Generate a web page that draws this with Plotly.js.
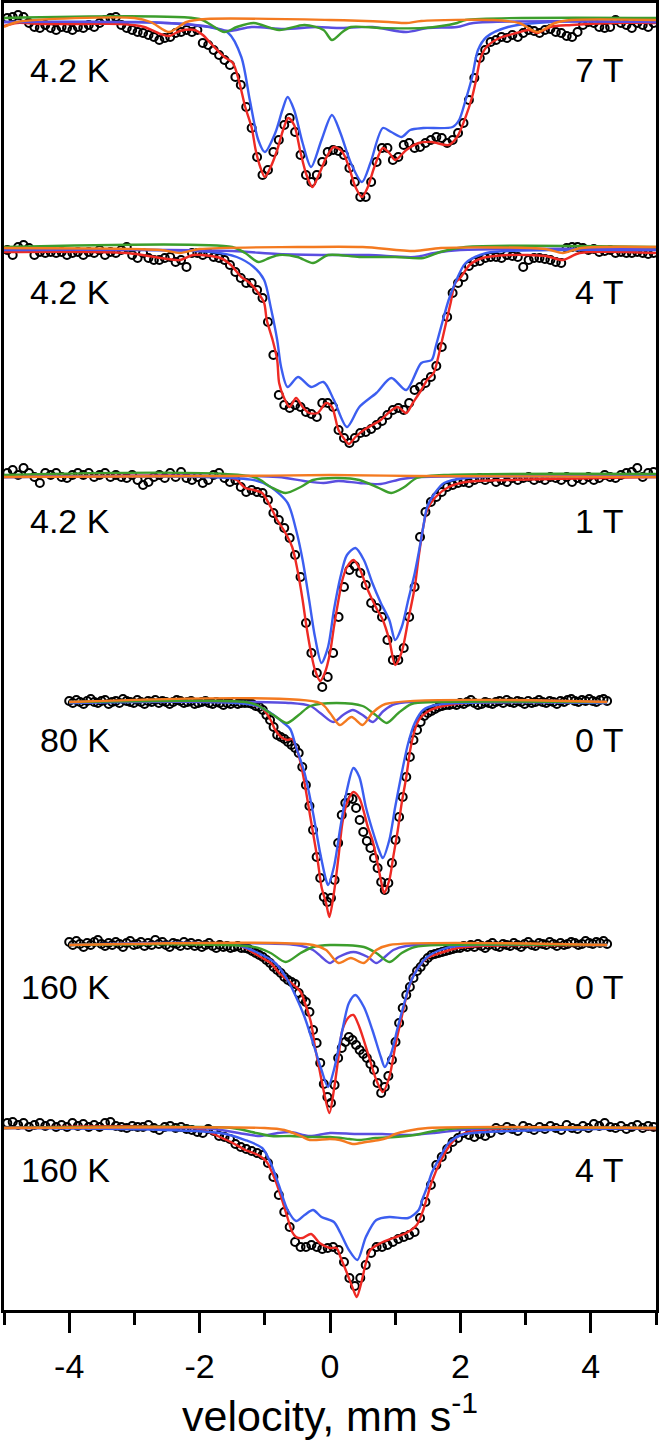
<!DOCTYPE html>
<html><head><meta charset="utf-8">
<script src="https://cdn.plot.ly/plotly-3.0.1.min.js"></script>
<style>html,body{margin:0;padding:0;background:#fff;}#chart{width:661px;height:1442px;}</style>
</head><body><div id="chart"></div>
<script>
// Velocity channels (mm/s)
const vStartWide = -4.95, vStepWide = 0.0833;   // panels 1,2,3,6
const vStartNarrow = -4.0, vStepNarrow = 0.055; // panels 4,5

const panelLabelsLeft = ['4.2 K', '4.2 K', '4.2 K', '80 K', '160 K', '160 K'];
const panelLabelsRight = ['7 T', '4 T', '1 T', '0 T', '0 T', '4 T'];
// vertical stacking offsets of each spectrum baseline (arb. units, downward)
const panelOffsets = [17, 246, 473, 700, 942, 1125];

const tickVals = [-4, -2, 0, 2, 4];
const tickText = ['-4', '-2', '0', '2', '4'];
const minorTickVals = [-5, -3, -1, 1, 3, 5];
const xTitle = 'velocity, mm s<sup>-1</sup>';

// ---- measured absorption (arb. units, positive = absorption) ----
const p1Data = [-2,-3,-5,-3,3,7,8,5,8,10, 7,8,10,7,8,5,7,3,0,-2, -3,5,8,10,12,13,15,17,20,18, 17,13,12,10,12,10,23,25,30,35,
  40,45,57,65,87,108,137,155,150,132, 120,105,98,112,135,155,162,155,142,132, 130,131,135,148,162,177,177,162,142,128,
  128,140,137,125,123,128,127,123,120,117, 118,123,120,113,103,80,58,38,30,22, 20,17,18,15,17,13,10,11,13,10,
  9,12,13,16,17,12,5,2,3,7, 8,7,0,3,5,8,3,5,7,3];
const p2Data = [1,6,-2,-4,-1,6,3,4,3,4, 3,6,4,3,6,3,4,1,6,3, 4,1,-2,6,9,4,9,11,11,9, 8,13,11,18,4,4,6,4,8,9,
  11,16,23,29,34,34,41,49,73,106, 146,156,159,156,158,163,165,168,154,154, 158,181,189,194,189,184,183,180,176,172,
  166,161,159,161,154,141,138,134,128,117, 98,68,44,34,28,17,13,12,9,8, 8,9,6,7,8,18,11,9,9,10,
  11,13,14,-1,-2,-2,-1,1,0,3, 2,1,4,3,4,4,3,4,5,4];
const p3Data = [-3,-6,-1,-8,-3,1,7,-3,-1,-3, 1,2,-1,-3,-1,-3,1,-1,-3,1, -1,1,2,-1,4,9,6,1,-1,2, -3,1,-4,2,4,1,7,4,-1,-3,
  2,6,4,11,16,14,16,17,24,37, 44,52,62,79,101,147,177,197,211,201, 177,141,111,94,90,97,109,127,132,141,
  164,184,184,172,141,111,61,36,26,21, 16,11,9,7,6,7,4,2,4,2, 6,4,6,2,4,2,1,4,2,4,
  1,2,4,1,6,2,4,1,4,2, -1,1,2,-1,-3,-4,-8,1,-3,-4];
const p4Data = [-2,0,-3,-1,1,-2,-4,-1,0,-2, -3,1,-1,-2,0,-4,-2,-1,0,-3, -1,1,-2,-1,-3,0,-2,-1,1,-1,
  -3,-2,0,-1,-2,1,0,-1,-2,0, 1,-1,0,2,0,1,-1,1,0,
  0,0,1,3,4,7,12,17,24,32, 34,36,39,42,45,50,64,82,103,127, 154,175,194,199,195,177,140,112,100,95,
  96,105,117,129,138,145,155,165,179,187, 180,160,137,114,94,74,54,37,27,19, 13,10,8,6,4,3,2,
  2,1,2,0,1,-1,-3,0,2,1, -1,0,1,-1,-2,0,-3,-1,0,-2, -1,1,-2,0,-1,-3,-1,0,-2,-1,
  1,-2,-1,-3,-4,-2,-1,-3,-2,-4, -2,-1,-3,-4,-2];
const p5Data = [-3,0,-4,-1,2,-2,0,-3,-5,-1, 1,-2,0,-3,-1,2,-2,-4,0,-1, -3,1,-2,0,-5,-1,-3,0,2,-2,
  -1,1,-3,0,-2,1,-1,2,0,-2, 1,3,0,2,1,3,2,1,3,
  3,4,6,8,10,12,15,18,22,25, 28,32,35,37,39,48,54,57,67,85, 98,118,139,152,158,140,113,103,97,92,
  95,100,105,109,113,119,125,138,148,142, 131,115,97,78,63,50,42,33,26,22, 17,13,10,9,8,7,6,5,4,3,
  3,1,2,0,2,-1,1,3,0,-2, 1,2,-1,0,1,-2,0,2,-1,-3, 0,1,-2,-1,0,-3,-1,1,-2,0,
  -1,-3,-2,0,-1,-4,-2,-1,-3,-2, -4,-1];
const p6Data = [-5,-6,-3,-5,-1,-3,-5,-2,-4,-1, -3,-1,-5,-2,-4,-1,-3,-1,-5,-6, -2,-1,0,-2,-1,-1,-3,0,2,-1,
  -2,0,-1,1,2,4,5,1,3,8, 9,11,16,19,21,23,25,27,35,49, 67,84,99,114,119,119,117,119,121,120,
  119,122,134,150,158,150,137,125,119,119, 117,114,111,109,107,104,90,74,57,37, 29,21,14,10,5,7,9,6,8,5,
  0,2,-1,1,3,-2,0,2,-1,1, -2,0,2,-3,0,1,-2,0,-4,-2, -5,-1,0,-2,1,-1,-3,0,-2,-1];

// ---- fitted curves: [velocity, absorption] ----
const p1Red = [[-5,6],[-4.8,3],[-4.4,4],[-3.8,4],[-3.2,4],[-2.85,7],[-2.6,14],[-2.47,16],[-2.3,11],[-2.08,10],[-1.95,15],[-1.82,24],[-1.62,37],[-1.49,43],[-1.4,60],[-1.3,87],[-1.2,108],[-1.14,130],[-1.07,147],[-1.0,157],[-0.91,147],[-0.81,130],[-0.71,108],[-0.64,98],[-0.55,105],[-0.45,133],[-0.36,155],[-0.27,167],[-0.16,153],[-0.06,138],[0.06,127],[0.19,132],[0.29,147],[0.39,167],[0.49,177],[0.58,167],[0.68,147],[0.81,128],[0.91,133],[1.0,140],[1.17,130],[1.36,123],[1.56,122],[1.82,125],[1.95,117],[2.08,97],[2.18,77],[2.24,60],[2.31,38],[2.4,27],[2.6,18],[2.86,13],[3.05,10],[3.18,13],[3.38,7],[3.7,5],[4.35,3],[5,3]];
const p1Blue = [[-5,2],[-3,2],[-2.1,5],[-1.56,13],[-1.36,37],[-1.23,80],[-1.1,120],[-1.0,132],[-0.84,113],[-0.73,90],[-0.65,77],[-0.55,90],[-0.42,123],[-0.29,147],[-0.13,120],[0.03,95],[0.16,113],[0.32,143],[0.49,162],[0.62,143],[0.81,108],[0.94,112],[1.1,117],[1.23,110],[1.43,108],[1.88,107],[1.98,100],[2.08,80],[2.18,57],[2.27,30],[2.4,17],[2.73,7],[3.38,2],[5,2]];
const p1Purple = [[-5,2],[-2.5,3],[-1.82,7],[-1.56,11],[-1.2,7],[-0.71,9],[-0.2,7],[0.13,8],[0.65,7],[1.17,12],[1.5,8],[1.95,7],[2.2,3],[5,2]];
const p1Green = [[-5,-2],[-2.0,-1],[-1.82,5],[-1.62,12],[-1.43,7],[-1.17,3],[-0.78,10],[-0.39,5],[-0.1,10],[0.03,20],[0.19,12],[0.32,7],[0.78,8],[1.43,8],[1.95,3],[2.08,0],[5,-2]];
const p1Orange = [[-5,7],[-4.8,2],[-3.0,-2],[-2.75,2],[-2.47,12],[-2.2,2],[-1.9,-1],[0,0],[0.9,2],[1.17,3],[1.4,1],[2.5,0],[2.9,3],[3.18,12],[3.45,3],[3.7,0],[5,0]];

const p2Red = [[-5,3],[-3.12,4],[-2.6,9],[-2.3,11],[-2.1,6],[-1.68,9],[-1.52,16],[-1.36,28],[-1.23,34],[-1.1,44],[-1.01,54],[-0.97,71],[-0.88,91],[-0.81,111],[-0.78,134],[-0.71,148],[-0.62,158],[-0.52,149],[-0.42,158],[-0.32,164],[-0.19,164],[-0.06,154],[0.03,158],[0.13,181],[0.23,191],[0.29,195],[0.39,188],[0.52,181],[0.65,176],[0.78,171],[0.91,163],[1.04,158],[1.17,164],[1.27,154],[1.4,141],[1.49,131],[1.59,124],[1.66,108],[1.72,91],[1.79,71],[1.85,54],[1.92,34],[2.01,28],[2.14,16],[2.34,9],[2.73,6],[3.31,7],[3.57,11],[3.83,4],[5,4]];
const p2Blue = [[-5,1],[-1.82,3],[-1.43,8],[-1.17,18],[-1.01,31],[-0.91,58],[-0.81,91],[-0.75,118],[-0.65,138],[-0.49,128],[-0.29,138],[-0.1,133],[0.06,151],[0.26,178],[0.45,158],[0.71,144],[0.94,129],[1.17,141],[1.4,114],[1.56,111],[1.62,98],[1.72,74],[1.82,51],[1.92,34],[2.08,14],[2.4,4],[3.38,1],[5,1]];
const p2Purple = [[-5,0],[-1.5,2],[-0.8,5],[0,6],[0.6,6],[1.3,8],[1.6,4],[2.0,1],[5,0]];
const p2Green = [[-5,-2],[-1.5,-2],[-1.3,4],[-1.1,13],[-0.93,9],[-0.78,6],[-0.5,8],[-0.26,14],[-0.03,6],[0.45,8],[1.0,8],[1.43,9],[1.69,3],[2.08,-2],[5,-2]];
const p2Orange = [[-5,-1],[-2.6,1],[-2.3,4],[-2.0,0],[-0.5,-2],[0.5,-2],[1.3,2],[1.7,-1],[3.3,0],[3.57,4],[3.85,-1],[5,-2]];

const p3Red = [[-5,1],[-1.6,1],[-1.43,4],[-1.3,12],[-1.17,14],[-1.04,17],[-0.91,31],[-0.81,44],[-0.71,54],[-0.58,71],[-0.49,97],[-0.42,124],[-0.36,151],[-0.29,177],[-0.23,194],[-0.15,205],[-0.08,197],[0.0,177],[0.06,151],[0.13,124],[0.19,104],[0.26,91],[0.36,84],[0.45,92],[0.58,114],[0.71,132],[0.81,144],[0.91,164],[1.0,189],[1.1,176],[1.2,144],[1.3,111],[1.36,81],[1.43,51],[1.49,34],[1.62,21],[1.82,11],[2.08,6],[2.73,4],[5,1]];
const p3Blue = [[-5,1],[-1.17,4],[-0.91,11],[-0.65,27],[-0.52,54],[-0.42,84],[-0.32,124],[-0.23,161],[-0.13,187],[-0.03,171],[0.06,134],[0.16,101],[0.26,79],[0.39,72],[0.52,84],[0.65,107],[0.78,127],[0.91,144],[1.0,164],[1.1,151],[1.2,124],[1.3,97],[1.36,77],[1.43,51],[1.49,31],[1.62,16],[1.75,7],[2.08,2],[5,0]];
const p3Purple = [[-5,1],[-0.8,1],[-0.4,5],[-0.1,7],[0.13,5],[0.45,7],[0.78,8],[1.1,3],[1.4,1],[5,1]];
const p3Green = [[-5,-1],[-1.17,1],[-0.91,11],[-0.68,17],[-0.45,11],[-0.26,4],[0.13,2],[0.45,4],[0.75,12],[0.94,17],[1.14,11],[1.33,2],[1.75,-1],[5,-2]];
const p3Orange = [[-5,1],[-1.5,0],[0,-1],[1.3,0],[5,1]];

const p4Red = [[-4,-1],[-1.3,0],[-1.17,2],[-1.04,5],[-0.91,17],[-0.84,27],[-0.75,34],[-0.65,37],[-0.58,36],[-0.52,44],[-0.45,60],[-0.39,80],[-0.32,107],[-0.26,130],[-0.19,157],[-0.13,184],[-0.06,200],[-0.01,214],[0.06,190],[0.13,154],[0.19,120],[0.26,100],[0.36,89],[0.45,95],[0.52,109],[0.58,124],[0.65,137],[0.71,154],[0.78,177],[0.83,190],[0.91,177],[0.97,154],[1.04,127],[1.1,100],[1.17,74],[1.23,47],[1.3,27],[1.36,17],[1.49,9],[1.62,5],[1.82,2],[2.08,0],[4.25,-1]];
const p4Blue = [[-4,0],[-1.17,2],[-0.91,10],[-0.71,20],[-0.61,26],[-0.52,44],[-0.39,70],[-0.26,110],[-0.16,147],[-0.06,177],[-0.03,182],[0.06,164],[0.16,124],[0.26,87],[0.36,65],[0.45,74],[0.55,104],[0.65,127],[0.75,147],[0.81,155],[0.91,137],[1.0,104],[1.1,70],[1.2,40],[1.3,20],[1.43,7],[1.62,2],[4.25,0]];
const p4Purple = [[-4,-1],[-0.6,0],[-0.3,3],[-0.15,10],[0.05,19],[0.2,12],[0.35,7],[0.5,12],[0.66,19],[0.82,8],[1.0,1],[4.25,-1]];
const p4Green = [[-4,-1],[-1.3,-1],[-1.12,2],[-0.87,12],[-0.66,20],[-0.48,12],[-0.3,3],[0.1,0],[0.5,3],[0.7,12],[0.87,20],[1.05,10],[1.25,1],[1.6,-1],[4.25,-1]];
const p4Orange = [[-4,-1],[-0.15,0],[0.0,10],[0.15,22],[0.33,14],[0.5,22],[0.65,10],[0.85,1],[4.25,-1]];

const p5Red = [[-4,0],[-1.43,0],[-1.3,3],[-1.17,8],[-1.04,13],[-0.91,18],[-0.78,28],[-0.65,35],[-0.52,42],[-0.45,47],[-0.39,57],[-0.29,78],[-0.23,102],[-0.16,125],[-0.1,145],[-0.01,168],[0.06,145],[0.13,112],[0.19,85],[0.29,72],[0.36,70],[0.45,82],[0.58,108],[0.71,135],[0.81,147],[0.91,132],[1.01,98],[1.1,72],[1.17,52],[1.27,32],[1.36,22],[1.49,13],[1.69,8],[1.95,3],[2.3,1],[4.25,0]];
const p5Blue = [[-4,0],[-1.43,0],[-1.04,10],[-0.84,18],[-0.65,35],[-0.52,52],[-0.39,72],[-0.26,98],[-0.13,125],[-0.03,142],[0.06,125],[0.19,85],[0.29,58],[0.39,50],[0.52,62],[0.65,85],[0.78,112],[0.84,122],[0.94,108],[1.04,82],[1.14,58],[1.23,38],[1.36,22],[1.49,12],[1.69,5],[1.95,1],[4.25,0]];
const p5Purple = [[-4,0],[-0.52,0],[-0.26,5],[-0.13,12],[0,18],[0.13,12],[0.36,7],[0.58,12],[0.71,18],[0.84,12],[0.97,5],[1.17,1],[4.25,0]];
const p5Green = [[-4,0],[-1.17,2],[-0.91,8],[-0.68,17],[-0.45,8],[-0.26,2],[0,0],[0.52,2],[0.71,8],[0.91,17],[1.1,8],[1.3,2],[1.75,0],[4.25,0]];
const p5Orange = [[-4,0],[-0.26,0],[-0.06,5],[0.13,18],[0.32,13],[0.52,18],[0.71,5],[0.91,0],[4.25,0]];

const p6Red = [[-5,0],[-2.0,1],[-1.69,9],[-1.49,15],[-1.3,22],[-1.1,27],[-0.97,34],[-0.84,52],[-0.75,69],[-0.65,90],[-0.58,104],[-0.52,109],[-0.42,110],[-0.29,106],[-0.16,115],[0.0,120],[0.1,120],[0.16,129],[0.26,145],[0.36,162],[0.41,169],[0.49,152],[0.55,135],[0.62,122],[0.78,115],[0.97,110],[1.17,105],[1.33,97],[1.43,82],[1.49,69],[1.56,54],[1.69,34],[1.82,19],[1.95,9],[2.08,5],[2.5,1],[5,1]];
const p6Blue = [[-5,0],[-1.69,5],[-1.3,12],[-1.04,20],[-0.91,35],[-0.78,58],[-0.65,82],[-0.52,93],[-0.39,87],[-0.26,82],[-0.13,89],[0.06,94],[0.16,105],[0.29,122],[0.42,132],[0.55,109],[0.71,92],[0.91,89],[1.2,90],[1.36,82],[1.43,69],[1.49,59],[1.56,45],[1.69,29],[1.82,15],[2.01,7],[2.4,4],[5,0]];
const p6Purple = [[-5,0],[-1.8,1],[-1.4,5],[-1.07,8],[-0.8,5],[-0.61,4],[-0.31,8],[0,5],[0.4,6],[0.8,6],[1.2,7],[1.6,5],[2.0,2],[2.5,0],[5,0]];
const p6Green = [[-5,0],[-1.5,0],[-1.2,4],[-0.9,8],[-0.6,8],[-0.3,9],[0,9],[0.3,11],[0.46,12],[0.7,10],[1.0,9],[1.3,7],[1.6,3],[2.0,0],[5,0]];
const p6Orange = [[-5,0],[-1.0,0],[-0.7,2],[-0.45,8],[-0.31,12],[0,11],[0.15,12],[0.35,16],[0.55,14],[0.75,12],[0.87,10],[1.0,6],[1.18,3],[1.5,0],[5,0]];

// ---- build ----
const panels = [
  {data: p1Data, start: vStartWide, step: vStepWide, fits: [p1Red, p1Blue, p1Purple, p1Green, p1Orange]},
  {data: p2Data, start: vStartWide, step: vStepWide, fits: [p2Red, p2Blue, p2Purple, p2Green, p2Orange]},
  {data: p3Data, start: vStartWide, step: vStepWide, fits: [p3Red, p3Blue, p3Purple, p3Green, p3Orange]},
  {data: p4Data, start: vStartNarrow, step: vStepNarrow, fits: [p4Red, p4Blue, p4Purple, p4Green, p4Orange]},
  {data: p5Data, start: vStartNarrow, step: vStepNarrow, fits: [p5Red, p5Blue, p5Purple, p5Green, p5Orange]},
  {data: p6Data, start: vStartWide, step: vStepWide, fits: [p6Red, p6Blue, p6Purple, p6Green, p6Orange]}
];
const fitColors = ['#ee2a24', '#3c5ef0', '#5a4ee0', '#3c9e2c', '#f47a20'];
const fitNames = ['total fit', 'component 1', 'component 2', 'component 3', 'component 4'];

const traces = [];
panels.forEach((p, i) => {
  const off = panelOffsets[i];
  traces.push({
    type: 'scatter', mode: 'markers', name: 'data',
    x: p.data.map((_, k) => +(p.start + p.step * k).toFixed(4)),
    y: p.data.map(d => off + d),
    marker: {symbol: 'circle-open', size: 8, color: '#000', line: {width: 2, color: '#000'}},
    cliponaxis: false, hoverinfo: 'x+y'
  });
});
panels.forEach((p, i) => {
  const off = panelOffsets[i];
  p.fits.forEach((f, j) => {
    traces.push({
      type: 'scatter', mode: 'lines', name: fitNames[j],
      x: f.map(q => q[0]), y: f.map(q => off + q[1]),
      line: {color: fitColors[j], width: 2.4, shape: 'spline', smoothing: 0.8}
    });
  });
});

const labelY = [67, 289, 518, 737, 984, 1167];
const annotations = [];
panelLabelsLeft.forEach((t, i) => {
  annotations.push({x: -3.34, y: labelY[i], xref: 'x', yref: 'y', text: t, showarrow: false,
    xanchor: 'right', yanchor: 'middle', font: {size: 34, color: '#000'}});
  annotations.push({x: 4.54, y: labelY[i], xref: 'x', yref: 'y', text: panelLabelsRight[i], showarrow: false,
    xanchor: 'right', yanchor: 'middle', font: {size: 34, color: '#000'}});
});
// x-axis title, placed below the tick labels (box bottom at figure bottom)
annotations.push({x: 0.5, y: -0.1005, xref: 'paper', yref: 'paper', text: xTitle, showarrow: false,
  xanchor: 'center', yanchor: 'bottom', borderpad: 0, font: {size: 43, color: '#000'}});

const layout = {
  width: 661, height: 1442,
  margin: {l: 4, r: 5, t: 3, b: 132},
  paper_bgcolor: '#fff', plot_bgcolor: '#fff',
  showlegend: false,
  font: {family: 'Arial, "Liberation Sans", sans-serif', color: '#000'},
  xaxis: {
    range: [-5, 5], tickmode: 'array', tickvals: tickVals, ticktext: tickText,
    ticks: 'outside', ticklen: 20, tickwidth: 3, tickcolor: '#000',
    minor: {tickmode: 'array', tickvals: minorTickVals, ticks: 'outside', ticklen: 12, tickwidth: 3, tickcolor: '#000', showgrid: false},
    showline: true, linewidth: 3, linecolor: '#000', mirror: true,
    showgrid: false, zeroline: false,
    tickfont: {size: 34, color: '#000'},
    ticklabelstandoff: 4,
    automargin: false
  },
  yaxis: {range: [1307, 0], showline: true, linewidth: 3, linecolor: '#000', mirror: true,
    ticks: '', showticklabels: false, showgrid: false, zeroline: false, automargin: false},
  annotations: annotations
};

Plotly.newPlot('chart', traces, layout, {displayModeBar: false, staticPlot: true});
</script></body></html>
